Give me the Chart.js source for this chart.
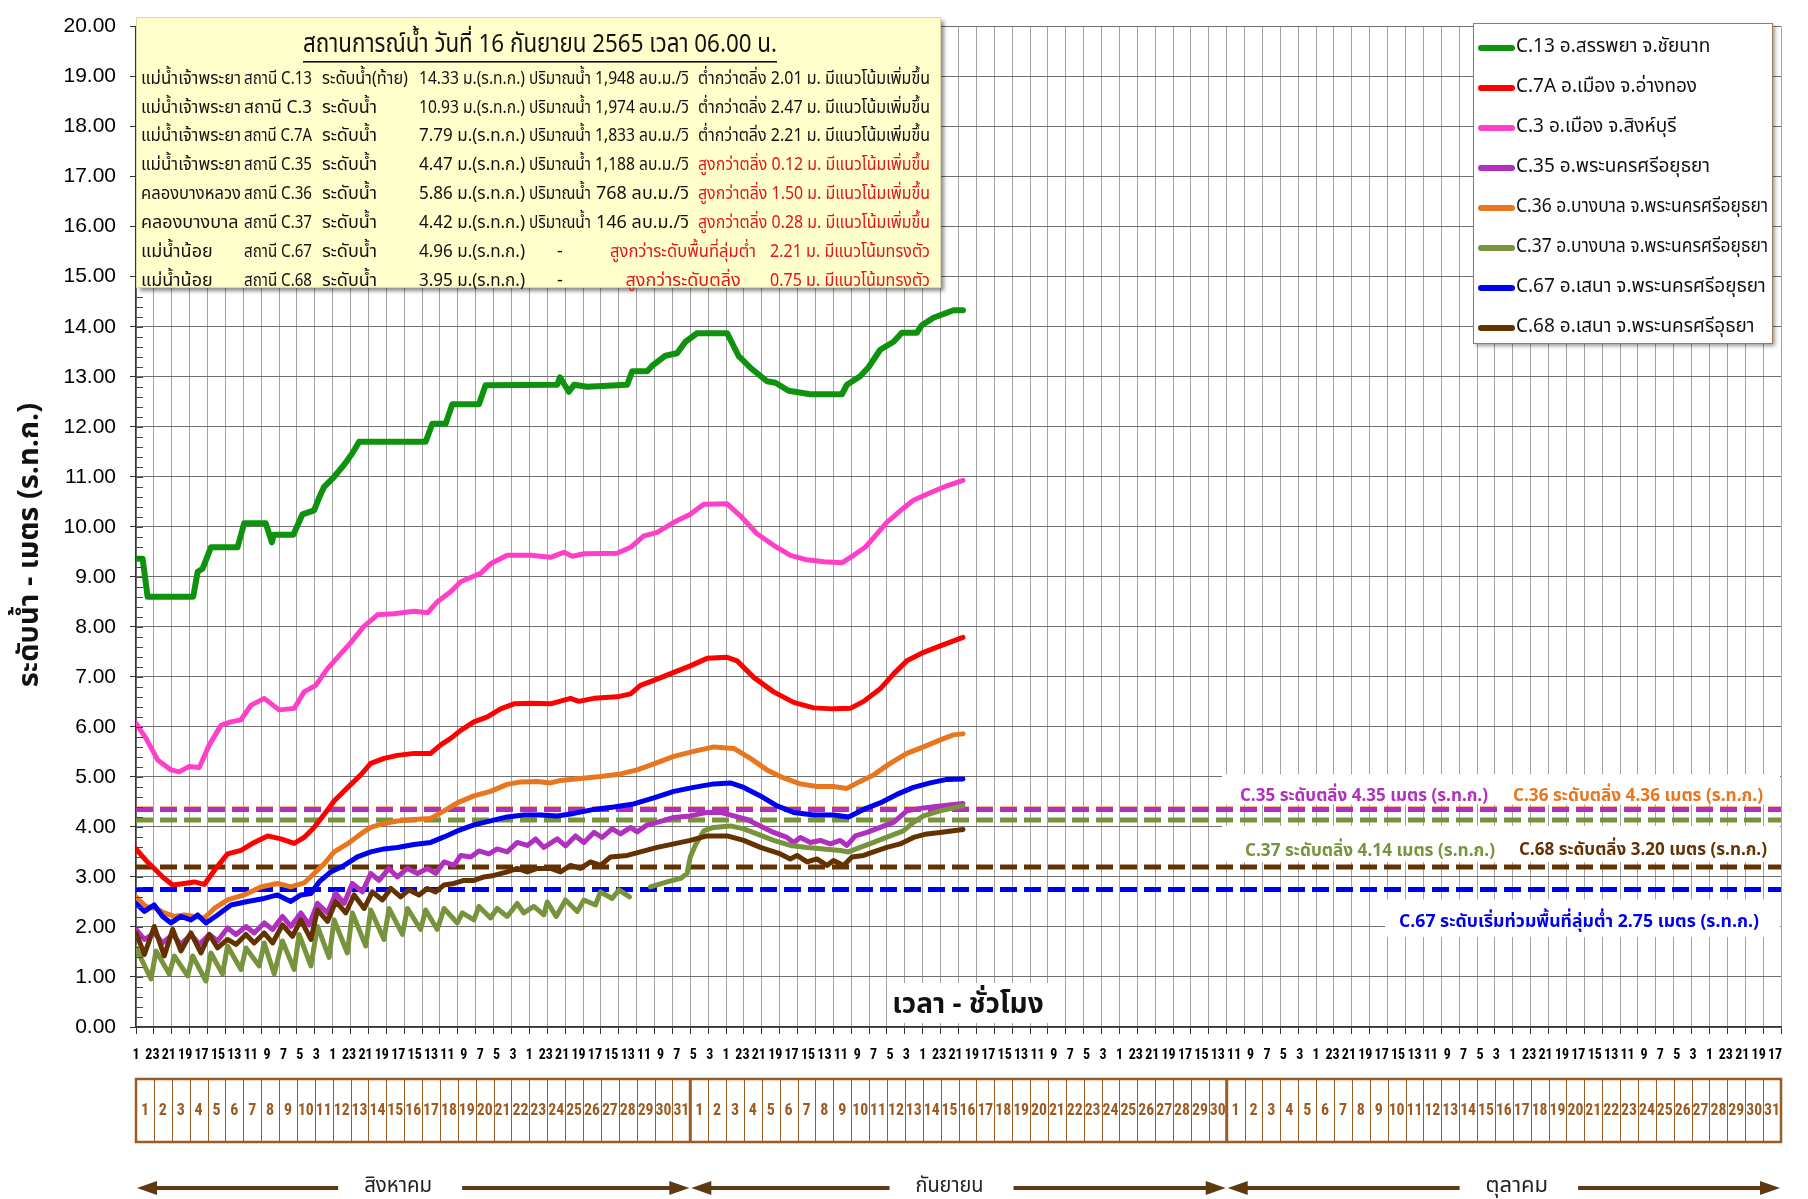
<!DOCTYPE html>
<html lang="th">
<head>
<meta charset="utf-8">
<title>ระดับน้ำ ลุ่มน้ำเจ้าพระยา</title>
<script src="https://cdn.jsdelivr.net/npm/chart.js@4.4.1/dist/chart.umd.min.js"></script>
<style>
  html, body { margin: 0; padding: 0; background: #fff; }
  canvas { display: block; }
</style>
</head>
<body>
<canvas id="levelChart" width="1808" height="1199"></canvas>
<script>
// ---- time base: hourly axis, 1 Aug - 31 Oct ----
const monthNames = ['สิงหาคม', 'กันยายน', 'ตุลาคม'];
const monthDays = [31, 30, 31];
const totalDays = 92;
const hoursPerDay = 24;
const labelEvery = 22;           // hour label every 22 h
const gridHours = Array.from({ length: totalDays + 1 }, (_, d) => d * hoursPerDay);
const labelHours = Array.from({ length: Math.floor(totalDays * hoursPerDay / labelEvery) + 1 }, (_, i) => i * labelEvery);

// ---- levels (m MSL), sampled at day offsets from 1 Aug 00:00 ----
const c13Days = [0, 0.37, 0.65, 3.2, 3.45, 3.72, 4.19, 5.68, 6.05, 7.26, 7.6, 7.7, 8.8, 9.31, 9.96, 10.24, 10.52, 11.08, 11.64, 12.1, 12.48, 16.2, 16.57, 17.32, 17.69, 19.18, 19.55, 23.56, 23.71, 24.21, 24.5, 25.23, 27.47, 27.75, 28.59, 28.87, 29.61, 30.26, 30.73, 31.38, 33.06, 33.71, 34.36, 35.29, 35.76, 36.5, 37.71, 39.48, 39.76, 40.5, 40.97, 41.62, 42.37, 42.83, 43.67, 43.95, 44.6, 45.72, 46.25];
const c13Level = [9.36, 9.36, 8.6, 8.6, 9.1, 9.16, 9.59, 9.59, 10.07, 10.07, 9.69, 9.84, 9.84, 10.25, 10.33, 10.58, 10.8, 11.0, 11.24, 11.47, 11.7, 11.7, 12.06, 12.06, 12.45, 12.45, 12.83, 12.84, 12.99, 12.7, 12.84, 12.8, 12.84, 13.11, 13.11, 13.22, 13.42, 13.47, 13.7, 13.87, 13.87, 13.41, 13.18, 12.91, 12.88, 12.72, 12.65, 12.65, 12.84, 13.01, 13.19, 13.54, 13.7, 13.88, 13.88, 14.03, 14.18, 14.33, 14.33];

const c7aDays = [0, 0.56, 1.02, 1.49, 2.05, 2.7, 3.26, 3.82, 4.38, 5.12, 5.87, 6.61, 7.36, 8.1, 8.85, 9.4, 9.96, 10.52, 11.08, 11.82, 12.57, 13.13, 13.87, 14.62, 15.55, 16.48, 17.04, 17.6, 18.16, 18.9, 19.65, 20.39, 21.14, 22.07, 23.18, 24.3, 24.77, 25.6, 26.91, 27.66, 28.21, 28.96, 30.08, 31.0, 31.94, 33.06, 33.62, 34.55, 35.66, 36.78, 37.9, 39.0, 39.95, 40.7, 41.62, 42.37, 43.11, 44.05, 44.98, 46.25];
const c7aLevel = [3.56, 3.33, 3.17, 3.0, 2.84, 2.87, 2.9, 2.85, 3.13, 3.46, 3.53, 3.69, 3.82, 3.76, 3.67, 3.79, 3.99, 4.25, 4.52, 4.78, 5.04, 5.27, 5.37, 5.43, 5.47, 5.47, 5.64, 5.77, 5.93, 6.1, 6.2, 6.36, 6.46, 6.47, 6.46, 6.57, 6.51, 6.57, 6.6, 6.66, 6.83, 6.93, 7.09, 7.22, 7.37, 7.39, 7.32, 6.99, 6.70, 6.49, 6.38, 6.36, 6.37, 6.51, 6.76, 7.06, 7.32, 7.49, 7.62, 7.79];

const c3Days = [0, 0.56, 1.21, 1.96, 2.42, 2.98, 3.54, 4.1, 4.75, 5.3, 5.87, 6.42, 7.17, 8.0, 8.85, 9.4, 10.05, 10.7, 11.27, 12.0, 12.75, 13.5, 14.43, 15.55, 16.3, 16.85, 17.6, 18.16, 19.27, 19.83, 20.76, 22.07, 23.18, 23.93, 24.4, 25.05, 26.91, 27.66, 28.4, 29.15, 30.08, 31.0, 31.75, 33.06, 33.8, 34.73, 35.66, 36.6, 37.53, 38.46, 39.48, 40.13, 40.78, 41.44, 41.99, 42.74, 43.48, 44.42, 45.35, 46.25];
const c3Level = [6.07, 5.77, 5.34, 5.14, 5.1, 5.21, 5.19, 5.64, 6.03, 6.1, 6.14, 6.43, 6.57, 6.34, 6.37, 6.7, 6.83, 7.16, 7.39, 7.68, 8.01, 8.24, 8.26, 8.31, 8.28, 8.5, 8.7, 8.9, 9.07, 9.26, 9.43, 9.43, 9.39, 9.49, 9.41, 9.46, 9.47, 9.59, 9.82, 9.89, 10.09, 10.25, 10.45, 10.46, 10.22, 9.86, 9.63, 9.43, 9.34, 9.30, 9.28, 9.43, 9.59, 9.86, 10.09, 10.32, 10.53, 10.68, 10.82, 10.93];

const c35Days = [0, 0.47, 1.02, 1.49, 2.05, 2.51, 3.07, 3.54, 4.1, 4.56, 5.12, 5.59, 6.15, 6.61, 7.17, 7.64, 8.19, 8.66, 9.22, 9.68, 10.15, 10.71, 11.17, 11.64, 12.1, 12.66, 13.13, 13.59, 14.15, 14.62, 15.18, 15.74, 16.29, 16.76, 17.23, 17.78, 18.16, 18.72, 19.18, 19.74, 20.2, 20.76, 21.32, 21.88, 22.35, 22.81, 23.56, 24.02, 24.58, 25.05, 25.61, 26.07, 26.63, 27.1, 27.66, 28.03, 28.59, 29.15, 30.08, 31.0, 31.94, 32.68, 33.43, 34.17, 34.92, 35.66, 36.41, 36.78, 37.15, 37.71, 38.27, 38.83, 39.39, 39.76, 40.23, 40.88, 41.62, 42.37, 43.11, 44.04, 44.97, 45.72, 46.25];
const c35Level = [1.95, 1.75, 1.88, 1.68, 1.85, 1.65, 1.85, 1.65, 1.85, 1.72, 1.98, 1.85, 2.01, 1.88, 2.08, 1.95, 2.21, 2.01, 2.28, 2.04, 2.47, 2.28, 2.67, 2.47, 2.87, 2.7, 3.07, 2.93, 3.17, 3.0, 3.17, 3.07, 3.17, 3.07, 3.3, 3.23, 3.43, 3.4, 3.52, 3.46, 3.56, 3.5, 3.69, 3.63, 3.76, 3.59, 3.76, 3.62, 3.82, 3.69, 3.89, 3.79, 3.96, 3.86, 3.99, 3.9, 4.04, 4.09, 4.19, 4.22, 4.29, 4.29, 4.22, 4.15, 4.02, 3.89, 3.79, 3.69, 3.79, 3.69, 3.73, 3.66, 3.73, 3.63, 3.82, 3.89, 3.99, 4.09, 4.32, 4.38, 4.42, 4.45, 4.47];

const c36Days = [0, 0.56, 1.12, 1.58, 2.14, 2.7, 3.26, 3.82, 4.38, 5.12, 6.05, 6.98, 7.91, 8.66, 9.4, 9.96, 10.52, 11.08, 11.82, 12.57, 13.13, 13.87, 14.62, 15.55, 16.48, 17.23, 17.97, 18.9, 19.83, 20.76, 21.51, 22.44, 23.18, 23.75, 24.86, 25.98, 27.1, 28.03, 28.96, 30.08, 31.19, 32.31, 33.43, 34.36, 35.29, 36.22, 37.15, 38.08, 39.0, 39.76, 40.5, 41.25, 42.18, 43.11, 44.05, 44.98, 45.72, 46.25];
const c36Level = [2.6, 2.41, 2.37, 2.28, 2.21, 2.24, 2.21, 2.18, 2.37, 2.54, 2.64, 2.8, 2.87, 2.8, 2.88, 3.07, 3.26, 3.5, 3.66, 3.86, 3.99, 4.07, 4.12, 4.15, 4.17, 4.32, 4.48, 4.62, 4.71, 4.85, 4.9, 4.91, 4.88, 4.93, 4.97, 5.01, 5.06, 5.14, 5.26, 5.41, 5.51, 5.6, 5.57, 5.37, 5.14, 4.98, 4.86, 4.81, 4.81, 4.77, 4.91, 5.04, 5.27, 5.47, 5.6, 5.74, 5.84, 5.86];

const c37Days = [0, 0.84, 1.12, 1.86, 2.14, 2.89, 3.17, 3.91, 4.19, 4.84, 5.12, 5.87, 6.15, 6.89, 7.17, 7.73, 8.19, 8.85, 9.12, 9.78, 10.15, 10.8, 11.08, 11.82, 12.1, 12.85, 13.13, 13.87, 14.15, 14.9, 15.18, 15.92, 16.2, 16.85, 17.23, 17.97, 18.25, 18.9, 19.18, 19.83, 20.2, 20.76, 21.32, 21.69, 22.25, 22.81, 23.0, 23.5, 24.02, 24.68, 25.05, 25.7, 25.98, 26.63, 27.0, 27.6, 28.3, 28.77, 29.7, 30.45, 30.82, 31.0, 31.3, 31.75, 32.3, 33.24, 33.99, 34.73, 35.66, 36.6, 37.53, 38.46, 39.39, 39.85, 40.5, 41.25, 42.18, 42.92, 43.48, 44.04, 44.97, 46.25];
const c37Level = [1.58, 0.96, 1.52, 1.06, 1.42, 1.02, 1.42, 0.92, 1.48, 1.06, 1.62, 1.15, 1.58, 1.22, 1.68, 1.06, 1.72, 1.15, 1.85, 1.22, 2.01, 1.39, 2.14, 1.48, 2.28, 1.62, 2.34, 1.75, 2.37, 1.85, 2.37, 1.95, 2.34, 1.95, 2.37, 2.08, 2.28, 2.14, 2.41, 2.18, 2.37, 2.21, 2.47, 2.28, 2.41, 2.24, 2.5, 2.21, 2.54, 2.31, 2.54, 2.44, 2.7, 2.57, 2.74, 2.6, null, 2.8, 2.9, 2.97, 3.07, 3.4, 3.65, 3.92, 3.99, 4.02, 3.96, 3.86, 3.73, 3.63, 3.59, 3.56, 3.53, 3.5, 3.59, 3.69, 3.82, 3.92, 4.09, 4.22, 4.32, 4.42];

const c67Days = [0, 0.47, 1.02, 1.49, 1.96, 2.51, 3.07, 3.45, 3.91, 4.56, 5.31, 6.24, 7.17, 7.91, 8.66, 9.22, 9.78, 10.24, 10.89, 11.64, 12.38, 13.13, 13.87, 14.62, 15.55, 16.48, 17.23, 17.97, 18.9, 19.83, 20.76, 21.69, 22.63, 23.56, 24.49, 25.61, 26.72, 27.84, 28.96, 30.08, 31.19, 32.31, 33.24, 33.99, 34.92, 35.85, 36.78, 37.9, 39.01, 39.85, 40.69, 41.62, 42.55, 43.48, 44.42, 45.35, 46.25];
const c67Level = [2.47, 2.31, 2.44, 2.21, 2.08, 2.21, 2.14, 2.24, 2.08, 2.24, 2.44, 2.51, 2.57, 2.64, 2.51, 2.64, 2.67, 2.9, 3.1, 3.23, 3.4, 3.5, 3.56, 3.59, 3.65, 3.69, 3.8, 3.92, 4.04, 4.12, 4.2, 4.24, 4.24, 4.22, 4.27, 4.35, 4.4, 4.46, 4.58, 4.71, 4.79, 4.86, 4.88, 4.79, 4.62, 4.42, 4.29, 4.24, 4.24, 4.2, 4.35, 4.48, 4.65, 4.79, 4.88, 4.95, 4.96];

const c68Days = [0, 0.47, 1.02, 1.58, 2.05, 2.51, 3.07, 3.63, 4.1, 4.56, 5.12, 5.59, 6.15, 6.61, 7.17, 7.64, 8.19, 8.75, 9.22, 9.78, 10.15, 10.71, 11.17, 11.73, 12.2, 12.76, 13.22, 13.78, 14.25, 14.8, 15.27, 15.83, 16.29, 16.76, 17.23, 17.78, 18.34, 18.9, 19.46, 20.02, 20.76, 21.32, 21.88, 22.44, 23.19, 23.74, 24.3, 24.86, 25.42, 25.98, 26.54, 27.47, 28.21, 29.15, 30.08, 31.0, 31.94, 33.06, 33.99, 34.92, 36.04, 36.59, 36.97, 37.53, 38.08, 38.64, 39.01, 39.57, 40.04, 40.69, 41.25, 41.99, 42.74, 43.48, 44.23, 44.97, 46.25];
const c68Level = [1.88, 1.45, 2.01, 1.42, 1.95, 1.52, 1.88, 1.48, 1.85, 1.58, 1.75, 1.65, 1.85, 1.68, 1.88, 1.68, 2.04, 1.81, 2.14, 1.75, 2.34, 2.11, 2.51, 2.28, 2.64, 2.37, 2.7, 2.54, 2.77, 2.6, 2.74, 2.64, 2.77, 2.7, 2.84, 2.87, 2.93, 2.93, 3.0, 3.03, 3.1, 3.17, 3.1, 3.17, 3.17, 3.1, 3.23, 3.17, 3.3, 3.23, 3.4, 3.43, 3.5, 3.59, 3.66, 3.73, 3.82, 3.82, 3.73, 3.59, 3.46, 3.36, 3.43, 3.3, 3.36, 3.23, 3.33, 3.23, 3.4, 3.43, 3.5, 3.59, 3.66, 3.79, 3.86, 3.89, 3.95];

// ---- stations ----
const stationNames = [
  'C.13 อ.สรรพยา จ.ชัยนาท',
  'C.7A อ.เมือง จ.อ่างทอง',
  'C.3 อ.เมือง จ.สิงห์บุรี',
  'C.35 อ.พระนครศรีอยุธยา',
  'C.36 อ.บางบาล จ.พระนครศรีอยุธยา',
  'C.37 อ.บางบาล จ.พระนครศรีอยุธยา',
  'C.67 อ.เสนา จ.พระนครศรีอยุธยา',
  'C.68 อ.เสนา จ.พระนครศรีอุธยา'
];
const stationColors = ['#0f930f', '#ff0000', '#ff3fc8', '#b02fbe', '#e8761e', '#77933c', '#0000f0', '#643200'];
const stationDays = [c13Days, c7aDays, c3Days, c35Days, c36Days, c37Days, c67Days, c68Days];
const stationLevels = [c13Level, c7aLevel, c3Level, c35Level, c36Level, c37Level, c67Level, c68Level];

// ---- bank / flooding thresholds ----
const bankCodes = ['C.36', 'C.35', 'C.37', 'C.68', 'C.67'];
const bankLevels = [4.36, 4.35, 4.14, 3.20, 2.75];
const bankColors = ['#e8761e', '#b02fbe', '#77933c', '#643200', '#0000f0'];
const bankKinds = ['ระดับตลิ่ง', 'ระดับตลิ่ง', 'ระดับตลิ่ง', 'ระดับตลิ่ง', 'ระดับเริ่มท่วมพื้นที่ลุ่มต่ำ'];

// ---- daily summary ----
const summaryTitle = 'สถานการณ์น้ำ วันที่ 16 กันยายน 2565 เวลา 06.00 น.';
const summaryRiver = ['แม่น้ำเจ้าพระยา', 'แม่น้ำเจ้าพระยา', 'แม่น้ำเจ้าพระยา', 'แม่น้ำเจ้าพระยา', 'คลองบางหลวง', 'คลองบางบาล', 'แม่น้ำน้อย', 'แม่น้ำน้อย'];
const summaryStation = ['C.13', 'C.3', 'C.7A', 'C.35', 'C.36', 'C.37', 'C.67', 'C.68'];
const summaryGauge = ['ระดับน้ำ(ท้าย)', 'ระดับน้ำ', 'ระดับน้ำ', 'ระดับน้ำ', 'ระดับน้ำ', 'ระดับน้ำ', 'ระดับน้ำ', 'ระดับน้ำ'];
const summaryFlow = ['1,948', '1,974', '1,833', '1,188', '768', '146', null, null];
const summaryCompare = ['ต่ำกว่าตลิ่ง', 'ต่ำกว่าตลิ่ง', 'ต่ำกว่าตลิ่ง', 'สูงกว่าตลิ่ง', 'สูงกว่าตลิ่ง', 'สูงกว่าตลิ่ง', 'สูงกว่าระดับพื้นที่ลุ่มต่ำ', 'สูงกว่าระดับตลิ่ง'];
const summaryDiff = ['2.01', '2.47', '2.21', '0.12', '1.50', '0.28', '2.21', '0.75'];
const summaryTrend = ['มีแนวโน้มเพิ่มขึ้น', 'มีแนวโน้มเพิ่มขึ้น', 'มีแนวโน้มเพิ่มขึ้น', 'มีแนวโน้มเพิ่มขึ้น', 'มีแนวโน้มเพิ่มขึ้น', 'มีแนวโน้มเพิ่มขึ้น', 'มีแนวโน้มทรงตัว', 'มีแนวโน้มทรงตัว'];

// pick a condensed face for the crowded hour / day numbers if one is installed
function hasFont(name) {
  const c = document.createElement('canvas').getContext('2d');
  const probe = 'abcdefghijklm0123456789';
  c.font = '40px monospace';
  const base = c.measureText(probe).width;
  c.font = "40px '" + name + "', monospace";
  return c.measureText(probe).width !== base;
}
const narrowFace = ['Liberation Sans Narrow', 'Roboto Condensed', 'Open Sans Condensed'].find(hasFont);
const NUM_FONT = "'Liberation Sans', Arial, sans-serif";
const TICK_FONT = narrowFace ? "'" + narrowFace + "', " + NUM_FONT : NUM_FONT;
const TICK_SIZE = narrowFace ? 14 : 12;
const THAI_FONT = "'Noto Sans Thai', 'Noto Sans Thai UI', Tahoma, 'Noto Sans', 'DejaVu Sans', sans-serif";

function latestLevel(code) {
  const i = stationNames.findIndex(n => n.startsWith(code + ' '));
  const arr = stationLevels[i];
  return arr[arr.length - 1];
}

const stationSets = stationNames.map((name, i) => ({
  label: name,
  data: stationDays[i].map((d, k) => ({ x: d * hoursPerDay, y: stationLevels[i][k] })),
  borderColor: stationColors[i],
  backgroundColor: stationColors[i],
  borderWidth: i === 0 ? 6 : 5,
  pointRadius: 0,
  tension: 0,
  spanGaps: false,
  borderCapStyle: 'round',
  borderJoinStyle: 'round',
  order: 20 - i
}));

const bankSets = bankCodes.map((code, i) => ({
  label: code + ' ' + bankKinds[i],
  data: [{ x: 0, y: bankLevels[i] }, { x: totalDays * hoursPerDay, y: bankLevels[i] }],
  borderColor: bankColors[i],
  borderWidth: 5,
  borderDash: [17, 7],
  pointRadius: 0,
  order: 40 - i
}));

function hLine(ctx, x0, x1, y) {
  ctx.beginPath(); ctx.moveTo(x0, y); ctx.lineTo(x1, y); ctx.stroke();
}

const decorations = {
  id: 'decorations',
  beforeDatasetsDraw(chart) {
    const { ctx, chartArea: a, scales: { y } } = chart;
    ctx.save();
    ctx.fillStyle = '#ffffff';
    // backgrounds behind threshold captions and the time title
    ctx.fillRect(1222, y.getPixelForValue(5.05), a.right - 1223, y.getPixelForValue(4.45) - y.getPixelForValue(5.05));
    ctx.fillRect(1222, y.getPixelForValue(4.02), a.right - 1223, y.getPixelForValue(3.3) - y.getPixelForValue(4.02));
    ctx.fillRect(1385, y.getPixelForValue(2.55), a.right - 1386, y.getPixelForValue(1.8) - y.getPixelForValue(2.55));
    ctx.fillRect(888, a.bottom - 44, 162, 40);
    ctx.restore();
  },
  afterDatasetsDraw(chart) {
    const { ctx, chartArea: a, scales: { y } } = chart;
    ctx.save();

    // minor ticks on the level axis
    ctx.strokeStyle = '#444';
    ctx.lineWidth = 1;
    for (let v = 0; v <= 20.001; v += 0.2) {
      const py = Math.round(y.getPixelForValue(v)) + 0.5;
      hLine(ctx, a.left, a.left + 7, py);
    }

    // x axis title
    ctx.fillStyle = '#111';
    ctx.font = "bold 28px " + THAI_FONT;
    ctx.textAlign = 'center';
    ctx.textBaseline = 'middle';
    ctx.fillText('เวลา - ชั่วโมง', 968, a.bottom - 20);

    // threshold captions
    ctx.font = "bold 18px " + THAI_FONT;
    ctx.textAlign = 'left';
    const caption = i => bankCodes[i] + ' ' + bankKinds[i] + ' ' + bankLevels[i].toFixed(2) + ' เมตร (ร.ท.ก.)';
    const spots = [[1513, 4.36, -12, 250], [1240, 4.35, -12, 248], [1245, 4.14, 32, 250], [1519, 3.20, -16, 248], [1399, 2.75, 34, 360]];
    spots.forEach(([x, lv, dy, w], i) => {
      ctx.fillStyle = bankColors[i];
      ctx.fillText(caption(i), x, y.getPixelForValue(lv) + dy, w);
    });

    // summary panel
    const bx = a.left, by = 17, bw = 804, bh = 270;
    ctx.save();
    ctx.shadowColor = 'rgba(0,0,0,0.45)';
    ctx.shadowOffsetX = 4; ctx.shadowOffsetY = 4; ctx.shadowBlur = 4;
    ctx.fillStyle = '#ffffcc';
    ctx.fillRect(bx, by, bw, bh);
    ctx.restore();
    ctx.strokeStyle = '#d8d8a8';
    ctx.strokeRect(bx + 0.5, by + 0.5, bw, bh);

    ctx.fillStyle = '#111';
    ctx.font = "26px " + THAI_FONT;
    ctx.textAlign = 'center';
    ctx.fillText(summaryTitle, 540, 47, 474);
    const tw = Math.min(ctx.measureText(summaryTitle).width, 474);
    ctx.fillRect(540 - tw / 2, 61, tw, 1.6);

    ctx.font = "18px " + THAI_FONT;
    summaryRiver.forEach((river, r) => {
      const ry = 80 + r * 28.9;
      const code = summaryStation[r];
      const red = r >= 3 ? '#e4141b' : '#111';
      ctx.fillStyle = '#111';
      ctx.textAlign = 'left';
      ctx.fillText(river, 141, ry, 100);
      ctx.fillText('สถานี ' + code, 244, ry, 68);
      ctx.fillText(summaryGauge[r], 322, ry, 86);
      ctx.textAlign = 'right';
      ctx.fillText(latestLevel(code).toFixed(2) + ' ม.(ร.ท.ก.)', 525, ry, 106);
      if (summaryFlow[r]) {
        ctx.textAlign = 'left';
        ctx.fillText('ปริมาณน้ำ', 529, ry, 62);
        ctx.textAlign = 'right';
        ctx.fillText(summaryFlow[r] + ' ลบ.ม./วิ', 689, ry, 94);
        ctx.fillStyle = red;
        ctx.fillText(summaryCompare[r] + ' ' + summaryDiff[r] + ' ม. ' + summaryTrend[r], 930, ry, 232);
      } else {
        ctx.textAlign = 'center';
        ctx.fillText('-', 560, ry);
        ctx.fillStyle = red;
        ctx.fillText(summaryCompare[r], 683, ry, 146);
        ctx.textAlign = 'right';
        ctx.fillText(summaryDiff[r] + ' ม. ' + summaryTrend[r], 930, ry, 160);
      }
    });

    // legend panel
    const lx = 1473, ly = 23, lw = 299, lh = 320;
    ctx.save();
    ctx.shadowColor = 'rgba(0,0,0,0.4)';
    ctx.shadowOffsetX = 3; ctx.shadowOffsetY = 3; ctx.shadowBlur = 4;
    ctx.fillStyle = '#ffffff';
    ctx.fillRect(lx, ly, lw, lh);
    ctx.restore();
    ctx.strokeStyle = '#9a7a5a';
    ctx.lineWidth = 1;
    ctx.strokeRect(lx + 0.5, ly + 0.5, lw, lh);
    ctx.font = "19px " + THAI_FONT;
    ctx.textAlign = 'left';
    chart.data.datasets.slice(0, stationNames.length).forEach((ds, i) => {
      const iy = 48 + i * 40;
      ctx.strokeStyle = ds.borderColor;
      ctx.lineWidth = 6;
      ctx.lineCap = 'round';
      hLine(ctx, 1481, 1512, iy);
      ctx.fillStyle = '#111';
      ctx.fillText(ds.label, 1516, iy, 252);
    });
    ctx.restore();
  },
  afterDraw(chart) {
    const { ctx, scales: { x } } = chart;
    const top = 1079, bottom = 1142, arrowY = 1188;
    const px = d => x.getPixelForValue(d * hoursPerDay);
    ctx.save();

    // level axis title
    ctx.save();
    ctx.translate(32, 545);
    ctx.rotate(-Math.PI / 2);
    ctx.fillStyle = '#111';
    ctx.font = "bold 29px " + THAI_FONT;
    ctx.textAlign = 'center';
    ctx.textBaseline = 'middle';
    ctx.fillText('ระดับน้ำ - เมตร (ร.ท.ก.)', 0, 0, 300);
    ctx.restore();

    // day boxes
    ctx.strokeStyle = '#9c5b22';
    ctx.fillStyle = '#9c5b22';
    ctx.font = "bold " + (TICK_SIZE + 2) + "px " + TICK_FONT;
    ctx.textAlign = 'center';
    ctx.textBaseline = 'middle';
    let day = 0;
    monthDays.forEach(n => {
      for (let d = 1; d <= n; d++) {
        const x0 = px(day), x1 = px(day + 1);
        if (d > 1) {
          ctx.lineWidth = 1;
          ctx.beginPath(); ctx.moveTo(Math.round(x0) + 0.5, top); ctx.lineTo(Math.round(x0) + 0.5, bottom); ctx.stroke();
        }
        ctx.fillText(String(d), (x0 + x1) / 2, (top + bottom) / 2, x1 - x0 - 2);
        day++;
      }
      if (day < totalDays) {
        ctx.lineWidth = 3;
        ctx.beginPath(); ctx.moveTo(px(day), top); ctx.lineTo(px(day), bottom); ctx.stroke();
      }
    });
    ctx.lineWidth = 2.5;
    ctx.strokeRect(px(0), top, px(totalDays) - px(0), bottom - top);

    // month arrows
    const labelShift = [-15, -9, 13];
    let start = 0;
    ctx.font = "22px " + THAI_FONT;
    monthNames.forEach((name, m) => {
      const x0 = px(start) + 1, x1 = px(start + monthDays[m]) - 1;
      const cx = (x0 + x1) / 2 + labelShift[m];
      const w = Math.min(ctx.measureText(name).width, 68);
      ctx.strokeStyle = '#5e3a12';
      ctx.fillStyle = '#5e3a12';
      ctx.lineWidth = 4;
      hLine(ctx, x0 + 14, cx - w / 2 - 26, arrowY);
      hLine(ctx, cx + w / 2 + 30, x1 - 14, arrowY);
      ctx.beginPath(); ctx.moveTo(x0, arrowY); ctx.lineTo(x0 + 20, arrowY - 7); ctx.lineTo(x0 + 20, arrowY + 7); ctx.closePath(); ctx.fill();
      ctx.beginPath(); ctx.moveTo(x1, arrowY); ctx.lineTo(x1 - 20, arrowY - 7); ctx.lineTo(x1 - 20, arrowY + 7); ctx.closePath(); ctx.fill();
      ctx.fillStyle = '#222';
      ctx.fillText(name, cx, arrowY, 68);
      start += monthDays[m];
    });
    ctx.restore();
  }
};

new Chart(document.getElementById('levelChart'), {
  type: 'line',
  data: { datasets: [...stationSets, ...bankSets] },
  options: {
    responsive: false,
    animation: false,
    devicePixelRatio: 1,
    layout: { padding: { top: 15, right: 27, bottom: 0, left: 0 } },
    plugins: { legend: { display: false }, tooltip: { enabled: false } },
    scales: {
      x: {
        type: 'linear',
        position: 'bottom',
        weight: 0,
        min: 0,
        max: totalDays * hoursPerDay,
        afterBuildTicks: s => { s.ticks = gridHours.map(v => ({ value: v })); },
        ticks: { display: false },
        grid: { color: '#a3a3a3', lineWidth: 1, tickLength: 7, tickColor: '#333' },
        border: { color: '#333', width: 1.5 },
        afterFit: s => { s.height = 8; }
      },
      xHours: {
        type: 'linear',
        position: 'bottom',
        weight: 1,
        min: 0,
        max: totalDays * hoursPerDay,
        afterBuildTicks: s => { s.ticks = labelHours.map(v => ({ value: v })); },
        ticks: {
          autoSkip: false,
          maxRotation: 0,
          minRotation: 0,
          padding: 12,
          color: '#000',
          font: { family: TICK_FONT, size: TICK_SIZE, weight: 'bold' },
          callback: v => String((v % hoursPerDay) + 1)
        },
        grid: { display: false, drawTicks: false },
        border: { display: false },
        afterFit: s => { s.height = 164; }
      },
      y: {
        min: 0,
        max: 20,
        afterBuildTicks: s => { s.ticks = Array.from({ length: 21 }, (_, i) => ({ value: i })); },
        ticks: {
          padding: 14,
          color: '#000',
          font: { family: NUM_FONT, size: 21 },
          callback: v => v.toFixed(2)
        },
        grid: { color: '#6f6f6f', lineWidth: 1, tickLength: 6, tickColor: '#333' },
        border: { color: '#333', width: 1.5 },
        afterFit: s => { s.width = 136; }
      }
    }
  },
  plugins: [decorations]
});
</script>
</body>
</html>
